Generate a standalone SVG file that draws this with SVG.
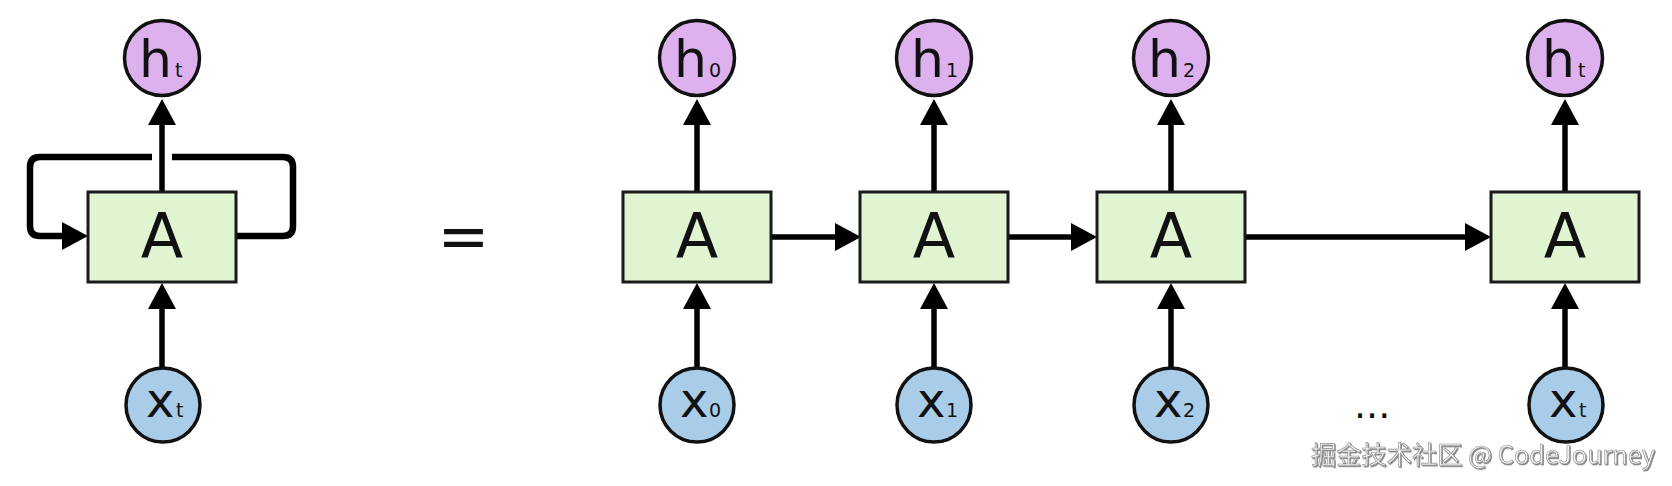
<svg xmlns="http://www.w3.org/2000/svg" width="1672" height="486" viewBox="0 0 1672 486">
<style>
.box{fill:#e0f4d2;stroke:#1a1a1a;stroke-width:3}
.hc{fill:#ddb1ee;stroke:#111;stroke-width:3.5}
.xc{fill:#a9cde9;stroke:#111;stroke-width:3.5}
.ln{fill:none;stroke:#000;stroke-width:5.5}
.loop{fill:none;stroke:#000;stroke-width:6.5}
text{font-family:"DejaVu Sans","Liberation Sans",sans-serif;fill:#111}
.A{font-size:62px;text-anchor:middle}
.big{font-size:52px}
.bx{font-size:48px}
.sub{font-size:19px}
.wm{font-family:"Noto Sans CJK SC","Noto Sans",sans-serif;font-size:25px;fill:#f2f2f2;stroke:#8c8c8c;stroke-width:0.6;filter:url(#sh)}
</style>
<defs>
<marker id="ah" markerUnits="userSpaceOnUse" markerWidth="26" markerHeight="28" viewBox="0 0 26 28" refX="2" refY="14" orient="auto">
<path d="M0,0 L26,14 L0,28 Z" fill="#000"/>
</marker>
<filter id="sh" x="-5%" y="-30%" width="110%" height="160%">
<feDropShadow dx="1" dy="1.2" stdDeviation="0.7" flood-color="#666" flood-opacity="0.8"/>
</filter>
</defs>

<g id="connectors">
<!-- left recurrent cell -->
<path class="ln" d="M162,192 V123" marker-end="url(#ah)"/>
<path class="ln" d="M162,368 V307" marker-end="url(#ah)"/>
<path class="loop" d="M236,236 H283 Q293,236 293,226 V167 Q293,157 283,157 H172"/>
<path class="loop" d="M152,157 H40 Q30,157 30,167 V226 Q30,236 40,236 H64" marker-end="url(#ah)"/>
<!-- unrolled -->
<path class="ln" d="M697,192 V123" marker-end="url(#ah)"/>
<path class="ln" d="M934,192 V123" marker-end="url(#ah)"/>
<path class="ln" d="M1171,192 V123" marker-end="url(#ah)"/>
<path class="ln" d="M1565,192 V123" marker-end="url(#ah)"/>
<path class="ln" d="M697,368 V307" marker-end="url(#ah)"/>
<path class="ln" d="M934,368 V307" marker-end="url(#ah)"/>
<path class="ln" d="M1171,368 V307" marker-end="url(#ah)"/>
<path class="ln" d="M1565,368 V307" marker-end="url(#ah)"/>
<path class="ln" d="M771,237 H837" marker-end="url(#ah)"/>
<path class="ln" d="M1008,237 H1073" marker-end="url(#ah)"/>
<path class="ln" d="M1245,237 H1467" marker-end="url(#ah)"/>
</g>

<g id="left-A"><rect class="box" x="88" y="192" width="148" height="90"/><text class="A" x="162" y="258">A</text></g>
<g id="left-h"><circle class="hc" cx="162" cy="58" r="37.5"/><text><tspan class="big" x="139" y="77">h</tspan><tspan class="sub" x="175" y="77">t</tspan></text></g>
<g id="left-x"><circle class="xc" cx="163" cy="405" r="37"/><text><tspan class="bx" x="146" y="417">x</tspan><tspan class="sub" x="176" y="417">t</tspan></text></g>

<g id="equals"><text class="A" x="463.5" y="258">=</text></g>

<g id="A0"><rect class="box" x="623" y="192" width="148" height="90"/><text class="A" x="697" y="258">A</text></g>
<g id="A1"><rect class="box" x="860" y="192" width="148" height="90"/><text class="A" x="934" y="258">A</text></g>
<g id="A2"><rect class="box" x="1097" y="192" width="148" height="90"/><text class="A" x="1171" y="258">A</text></g>
<g id="At"><rect class="box" x="1491" y="192" width="148" height="90"/><text class="A" x="1565" y="258">A</text></g>

<g id="h0"><circle class="hc" cx="697" cy="58" r="37.5"/><text><tspan class="big" x="674" y="77">h</tspan><tspan class="sub" x="709" y="77">0</tspan></text></g>
<g id="h1"><circle class="hc" cx="934" cy="58" r="37.5"/><text><tspan class="big" x="911" y="77">h</tspan><tspan class="sub" x="946" y="77">1</tspan></text></g>
<g id="h2"><circle class="hc" cx="1171" cy="58" r="37.5"/><text><tspan class="big" x="1148" y="77">h</tspan><tspan class="sub" x="1183" y="77">2</tspan></text></g>
<g id="ht"><circle class="hc" cx="1565" cy="58" r="37.5"/><text><tspan class="big" x="1542" y="77">h</tspan><tspan class="sub" x="1578" y="77">t</tspan></text></g>

<g id="x0"><circle class="xc" cx="697" cy="405" r="37"/><text><tspan class="bx" x="680" y="417">x</tspan><tspan class="sub" x="709" y="417">0</tspan></text></g>
<g id="x1"><circle class="xc" cx="934" cy="405" r="37"/><text><tspan class="bx" x="917" y="417">x</tspan><tspan class="sub" x="946" y="417">1</tspan></text></g>
<g id="x2"><circle class="xc" cx="1171" cy="405" r="37"/><text><tspan class="bx" x="1154" y="417">x</tspan><tspan class="sub" x="1183" y="417">2</tspan></text></g>
<g id="xt"><circle class="xc" cx="1566" cy="405" r="37"/><text><tspan class="bx" x="1549" y="417">x</tspan><tspan class="sub" x="1579" y="417">t</tspan></text></g>

<g id="ellipsis"><text x="1354" y="418" style="font-size:38px">...</text></g>

<g id="watermark"><text class="wm" x="1311" y="464" textLength="344" lengthAdjust="spacingAndGlyphs">掘金技术社区 @ CodeJourney</text></g>
</svg>
